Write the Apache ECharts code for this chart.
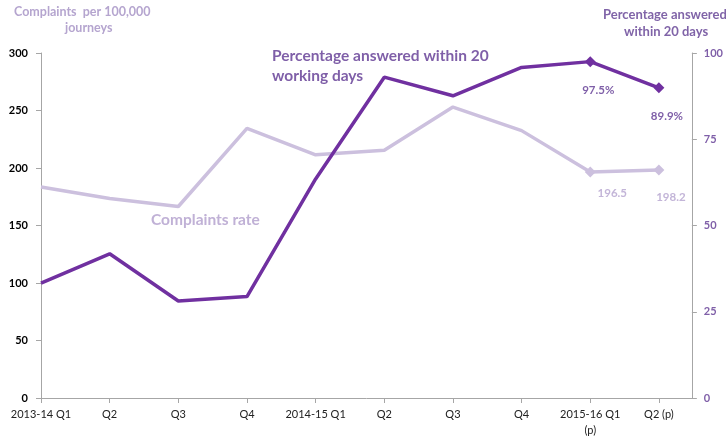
<!DOCTYPE html>
<html>
<head>
<meta charset="utf-8">
<script src="https://cdn.jsdelivr.net/npm/echarts@6/dist/echarts.min.js"></script>
<style>
html,body{margin:0;padding:0;background:#fff;}
#chart{width:726px;height:438px;}
</style>
</head>
<body>
<div id="chart"></div>
<script>
var categories = ['2013-14 Q1','Q2','Q3','Q4','2014-15 Q1','Q2','Q3','Q4','2015-16 Q1\n(p)','Q2 (p)'];
var complaintsRate = [183.5, 173.5, 166.5, 234.5, 211.5, 215.5, 253.0, 232.5, 196.5, 198.2];
var pctAnswered = [33.3, 41.8, 28.1, 29.4, 63.5, 93.0, 87.6, 95.8, 97.5, 89.9];
var leftTicks = {min:0, max:300, interval:50};
var rightTicks = {min:0, max:100, interval:25};
var labelledFrom = 8;

var FONT = 'Lato, "Open Sans", sans-serif';
var DARK = '#7030a0';
var LIGHT = '#ccc0de';

function build(values, isPct) {
  return values.map(function (v, i) {
    var item = {value: [i, v]};
    if (i >= labelledFrom) {
      item.symbol = 'diamond';
      item.symbolSize = 11;
      item.label = {
        show: true,
        position: 'bottom',
        distance: isPct ? 17 : 8,
        offset: isPct ? [8, 0] : [i === 8 ? 22 : 12, i === 8 ? 2 : 8],
        formatter: isPct ? (v.toFixed(1) + '%') : v.toFixed(1),
        color: isPct ? '#7f5fa8' : '#c3b5d8',
        fontFamily: FONT,
        fontWeight: 'bold',
        fontSize: 11.5
      };
    } else {
      item.symbol = 'none';
    }
    return item;
  });
}

var chart = echarts.init(document.getElementById('chart'), null, {renderer: 'canvas'});
chart.setOption({
  animation: false,
  backgroundColor: '#fff',
  textStyle: {fontFamily: FONT},
  grid: {left: 41, right: 28, top: 53, bottom: 36, containLabel: false},
  xAxis: {
    type: 'value',
    min: 0,
    max: 9.48,
    interval: 1,
    splitLine: {show: false},
    axisLine: {show: true, lineStyle: {color: '#a6a6a6', width: 1}},
    axisTick: {show: true, length: 5, lineStyle: {color: '#a6a6a6'}},
    axisLabel: {
      color: '#222',
      fontSize: 11,
      fontFamily: FONT,
      margin: 8,
      lineHeight: 16,
      showMaxLabel: false,
      formatter: function (v) {
        return (Math.abs(v - Math.round(v)) < 1e-6 && categories[Math.round(v)] !== undefined) ? categories[Math.round(v)] : '';
      }
    }
  },
  yAxis: [{
    type: 'value',
    min: leftTicks.min, max: leftTicks.max, interval: leftTicks.interval,
    position: 'left',
    splitLine: {show: false},
    axisLine: {show: true, lineStyle: {color: '#a6a6a6'}},
    axisTick: {show: true, length: 5, lineStyle: {color: '#a6a6a6'}},
    axisLabel: {color: '#000', fontWeight: 'bold', fontSize: 11, fontFamily: FONT, margin: 13}
  }, {
    type: 'value',
    min: rightTicks.min, max: rightTicks.max, interval: rightTicks.interval,
    position: 'right',
    splitLine: {show: false},
    axisLine: {show: true, lineStyle: {color: '#a6a6a6'}},
    axisTick: {show: true, length: 5, lineStyle: {color: '#a6a6a6'}},
    axisLabel: {color: '#7f5fa8', fontWeight: 'bold', fontSize: 11, fontFamily: FONT, margin: 12}
  }],
  series: [{
    name: 'Complaints rate',
    type: 'line',
    yAxisIndex: 0,
    showSymbol: true,
    showAllSymbol: true,
    lineStyle: {color: LIGHT, width: 3.5},
    itemStyle: {color: LIGHT},
    data: build(complaintsRate, false),
    z: 2
  }, {
    name: 'Percentage answered within 20 working days',
    type: 'line',
    yAxisIndex: 1,
    showSymbol: true,
    showAllSymbol: true,
    lineStyle: {color: DARK, width: 3.5},
    itemStyle: {color: DARK},
    data: build(pctAnswered, true),
    z: 3
  }],
  graphic: [
    {type: 'text', left: 14, top: 5, style: {text: 'Complaints  per 100,000', fill: '#b5a5cf', font: 'bold 12.5px ' + FONT}},
    {type: 'text', left: 65, top: 21, style: {text: 'journeys', fill: '#b5a5cf', font: 'bold 12.5px ' + FONT}},
    {type: 'text', left: 603, top: 8, style: {text: 'Percentage answered', fill: '#8064a8', font: 'bold 13px ' + FONT}},
    {type: 'text', left: 624, top: 25, style: {text: 'within 20 days', fill: '#8064a8', font: 'bold 13px ' + FONT}},
    {type: 'text', left: 272, top: 46, style: {text: 'Percentage answered within 20\nworking days', fill: '#7f5fa8', font: 'bold 15.5px ' + FONT, lineHeight: 20}},
    {type: 'text', left: 151, top: 212, style: {text: 'Complaints rate', fill: '#c0b1d6', font: 'bold 15.5px ' + FONT}}
  ]
});
</script>
</body>
</html>
